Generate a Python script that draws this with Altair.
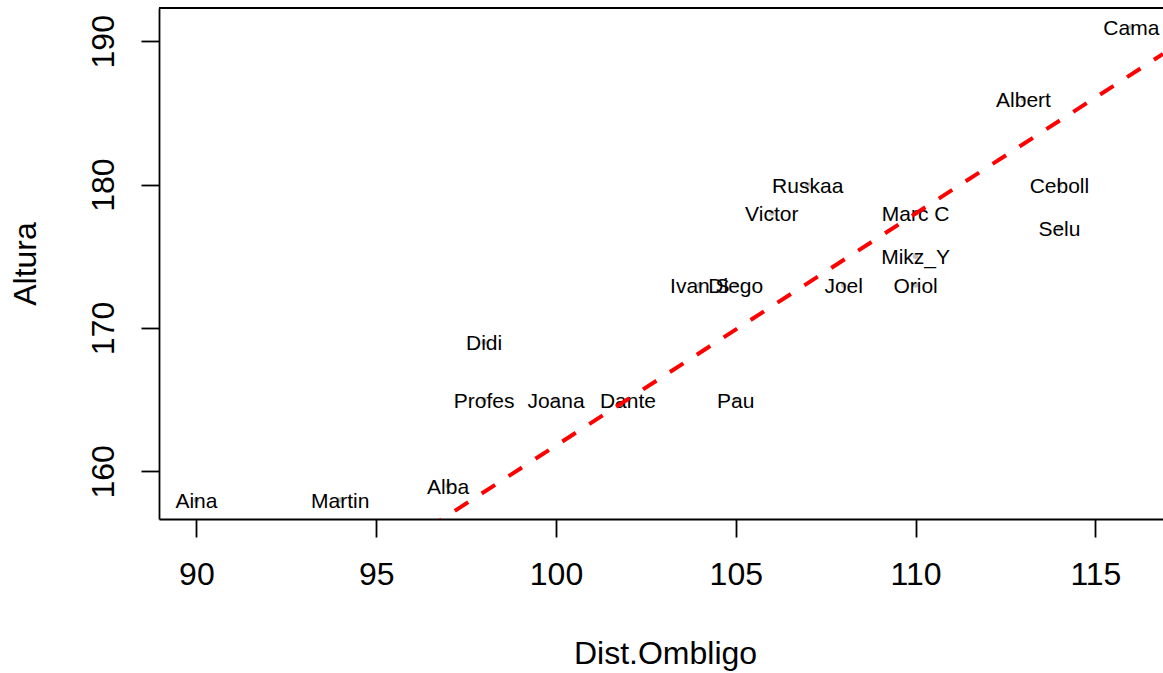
import altair as alt
import pandas as pd

# Alumnos: distancia al ombligo (cm) y altura (cm)
nombres = ["Aina", "Martin", "Alba", "Didi", "Profes", "Joana", "Dante", "Pau",
           "Ivan S", "Diego", "Joel", "Oriol", "Mikz_Y", "Marc C", "Victor",
           "Ruskaa", "Albert", "Ceboll", "Selu", "Cama"]
dist_ombligo = [90, 94, 97, 98, 98, 100, 102, 105, 104, 105, 108, 110, 110, 110,
                106, 107, 113, 114, 114, 116]
altura = [158, 158, 159, 169, 165, 165, 165, 165, 173, 173, 173, 173, 175, 178,
          178, 180, 186, 180, 177, 191]

x_ticks = [90, 95, 100, 105, 110, 115]
y_ticks = [160, 170, 180, 190]

# Razón áurea: recta Altura = phi * Dist.Ombligo
PHI = (1 + 5 ** 0.5) / 2

X_DOMAIN = [88.96, 116.88]
Y_DOMAIN = [156.68, 192.32]

W, H = 1004, 511
FONT = "Liberation Sans"

df = pd.DataFrame({"dist": dist_ombligo, "altura": altura, "nombre": nombres})
recta = pd.DataFrame({"dist": X_DOMAIN})
recta["altura"] = PHI * recta["dist"]

x_enc = alt.X(
    "dist:Q",
    scale=alt.Scale(domain=X_DOMAIN, nice=False, zero=False),
    axis=alt.Axis(
        values=x_ticks, title="Dist.Ombligo", grid=False,
        tickSize=18, tickWidth=1.8, tickColor="black",
        domainColor="black", domainWidth=1.8,
        labelFont=FONT, labelFontSize=32, labelColor="black",
        labelPadding=22, labelBaseline="top", labelFlush=False,
        titleFont=FONT, titleFontSize=32, titleFontWeight="normal",
        titleColor="black", titleX=506, titleY=144,
        titleBaseline="alphabetic", titleAnchor="middle",
    ),
)
y_enc = alt.Y(
    "altura:Q",
    scale=alt.Scale(domain=Y_DOMAIN, nice=False, zero=False),
    axis=alt.Axis(
        values=y_ticks, title="Altura", grid=False,
        tickSize=18, tickWidth=1.8, tickColor="black",
        domainColor="black", domainWidth=1.8,
        labelFont=FONT, labelFontSize=32, labelColor="black",
        labelAngle=270, labelAlign="center", labelBaseline="alphabetic",
        labelPadding=28, labelFlush=False,
        titleFont=FONT, titleFontSize=32, titleFontWeight="normal",
        titleColor="black", titleAngle=270, titleX=-124, titleY=H / 2,
        titleAlign="center", titleBaseline="alphabetic",
    ),
)

base = alt.Chart(df)

puntos = base.mark_circle(size=30, color="#c4c4c4", opacity=1).encode(
    x=x_enc, y=y_enc
)

etiquetas = base.mark_text(
    font=FONT, fontSize=21, color="black", baseline="middle", align="center",
    dy=2,
).encode(x=x_enc, y=y_enc, text="nombre:N")

linea = alt.Chart(recta).mark_line(
    color="red", strokeWidth=4, strokeDash=[16, 16], clip=True
).encode(x=x_enc, y=y_enc)

borde_sup = alt.Chart(pd.DataFrame({"k": [0]})).mark_rule(
    color="black", strokeWidth=1.8
).encode(x=alt.value(0), x2=alt.value(W), y=alt.value(0))

chart = (
    alt.layer(puntos, etiquetas, linea, borde_sup)
    .properties(
        width=W, height=H,
        padding={"left": 159, "top": 8, "right": 0, "bottom": 154},
        autosize=alt.AutoSizeParams(type="none"),
        background="white",
    )
    .configure_view(stroke=None)
)

chart.save("out.html", embed_options={"renderer": "svg", "actions": False})
